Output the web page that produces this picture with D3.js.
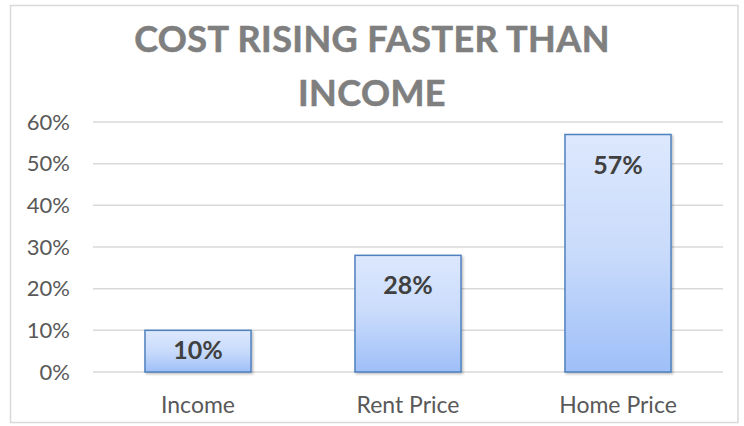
<!DOCTYPE html>
<html><head><meta charset="utf-8">
<script src="https://cdn.jsdelivr.net/npm/d3@7"></script>
<style>html,body{margin:0;padding:0;background:#fff;}svg{display:block;}</style>
</head><body>
<svg id="chart" width="744" height="426"></svg>
<script>
const titleLines = ["COST RISING FASTER THAN", "INCOME"];
const categories = ["Income", "Rent Price", "Home Price"];
const values = [0.10, 0.28, 0.57];
const yTicks = [0, 0.1, 0.2, 0.3, 0.4, 0.5, 0.6];

const svg = d3.select("#chart");
const font = "Lato, 'Open Sans', sans-serif";

// chart border
svg.append("rect").attr("x", 10.5).attr("y", 5.5).attr("width", 727.5).attr("height", 417)
  .attr("fill", "#fff").attr("stroke", "#d9d9d9").attr("stroke-width", 1.5);

const defs = svg.append("defs");
const grad = defs.append("linearGradient").attr("id", "barGrad")
  .attr("x1", 0).attr("y1", 0).attr("x2", 0).attr("y2", 1);
grad.append("stop").attr("offset", "0%").attr("stop-color", "#dde8fd");
grad.append("stop").attr("offset", "50%").attr("stop-color", "#c9dbfb");
grad.append("stop").attr("offset", "100%").attr("stop-color", "#9ebff8");
const f = defs.append("filter").attr("id", "shadow").attr("x", "-10%").attr("y", "-10%").attr("width", "130%").attr("height", "130%");
f.append("feDropShadow").attr("dx", 1.5).attr("dy", 1.5).attr("stdDeviation", 1.2).attr("flood-color", "#000").attr("flood-opacity", 0.25);

// title
svg.append("text").attr("text-anchor", "middle").attr("font-family", font)
  .attr("font-weight", "bold").attr("font-size", 36).attr("fill", "#7f7f7f")
  .attr("letter-spacing", 0.4).attr("stroke", "#7f7f7f").attr("stroke-width", 0.6)
  .selectAll("tspan").data(titleLines).join("tspan")
  .attr("x", 372).attr("y", (d, i) => 52 + i * 54).text(d => d);

const x = d3.scaleBand().domain(categories).range([93, 723]).paddingInner(0.495).paddingOuter(0.2475);
const y = d3.scaleLinear().domain([0, 0.6]).range([372, 122]);

// gridlines
svg.append("g").selectAll("line").data(yTicks).join("line")
  .attr("x1", 93).attr("x2", 723).attr("y1", d => y(d)).attr("y2", d => y(d))
  .attr("stroke", "#d9d9d9").attr("stroke-width", 1.5);

// y axis
const yAxis = svg.append("g").attr("transform", "translate(80,0)")
  .call(d3.axisLeft(y).tickValues(yTicks).tickFormat(d3.format(".0%")).tickSize(0).tickPadding(10));
yAxis.select(".domain").remove();
yAxis.selectAll("text").attr("font-family", font).attr("font-size", 22).attr("fill", "#595959");

// x axis
const xAxis = svg.append("g").attr("transform", "translate(0,372)")
  .call(d3.axisBottom(x).tickSize(0).tickPadding(24.5));
xAxis.select(".domain").remove();
xAxis.selectAll("text").attr("font-family", font).attr("font-size", 23).attr("fill", "#595959");

// bars
const data = categories.map((c, i) => ({ c, v: values[i] }));
svg.append("g").selectAll("rect").data(data).join("rect")
  .attr("x", d => x(d.c)).attr("width", x.bandwidth())
  .attr("y", d => y(d.v)).attr("height", d => y(0) - y(d.v))
  .attr("fill", "url(#barGrad)").attr("stroke", "#4f81bd").attr("stroke-width", 1.5)
  .attr("filter", "url(#shadow)");

// data labels
svg.append("g").selectAll("text").data(data).join("text")
  .attr("x", d => x(d.c) + x.bandwidth() / 2)
  .attr("y", d => Math.min(y(d.v) + 39, (y(d.v) + y(0)) / 2 + 8))
  .attr("text-anchor", "middle").attr("font-family", font).attr("font-weight", "bold")
  .attr("font-size", 25).attr("fill", "#404040")
  .text(d => d3.format(".0%")(d.v));
</script>
</body></html>
